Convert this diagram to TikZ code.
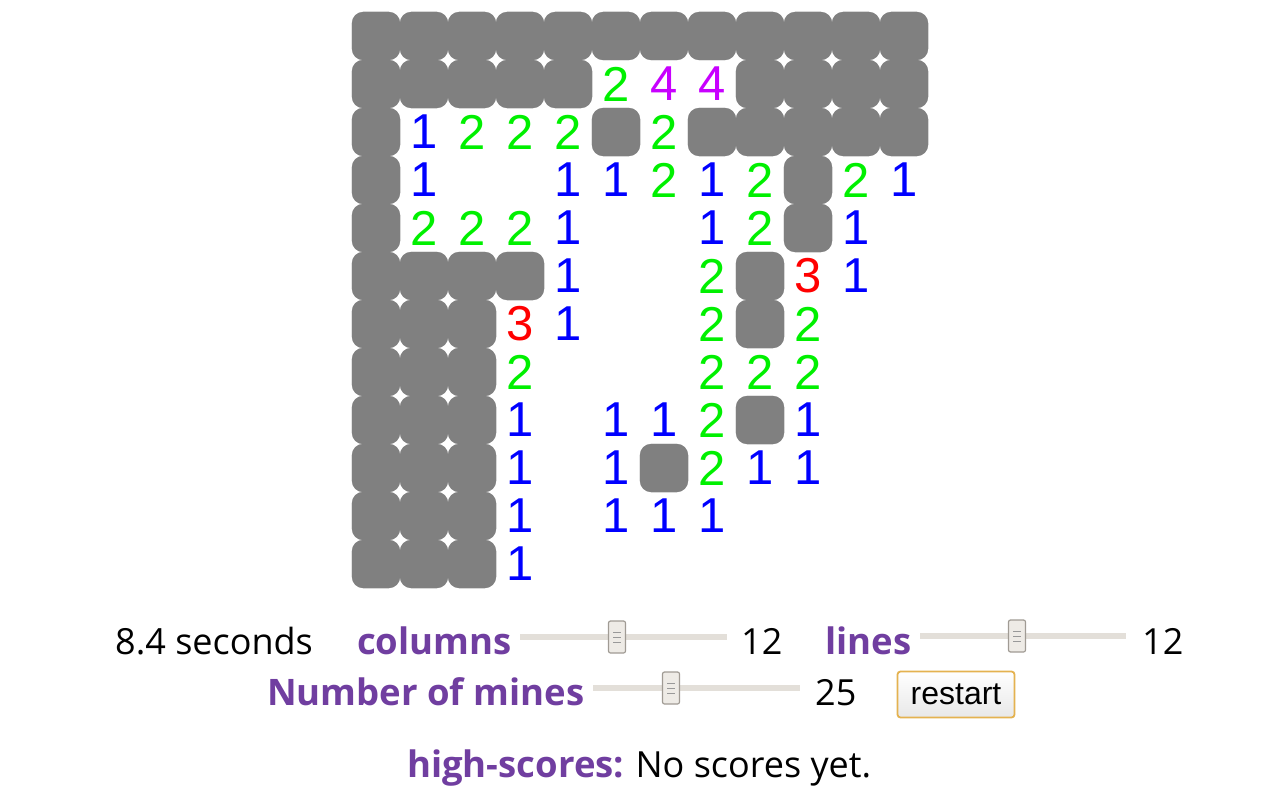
\documentclass[tikz,border=0pt]{standalone}
\usepackage{fontspec}
\setmainfont{Open Sans}
\newfontfamily\digitfont{Liberation Sans}
\usetikzlibrary{positioning}

\definecolor{cellgray}{RGB}{128,128,128}
\definecolor{cellrim}{RGB}{175,175,175}
\definecolor{num1}{RGB}{0,0,255}
\definecolor{num2}{RGB}{0,240,0}
\definecolor{num3}{RGB}{255,0,0}
\definecolor{num4}{RGB}{200,0,255}
\definecolor{labelpurple}{RGB}{112,62,160}
\definecolor{trackgray}{RGB}{227,223,217}
\definecolor{thumbfill}{RGB}{238,235,230}
\definecolor{thumbrim}{RGB}{160,155,148}
\definecolor{buttonrim}{RGB}{228,178,80}

\newcommand{\coveredcells}{0/{0,1,...,11}, 1/{0,1,2,3,4,8,9,10,11}, 2/{0,5,7,8,9,10,11},
  3/{0,9}, 4/{0,9}, 5/{0,1,2,3,8}, 6/{0,1,2,8}, 7/{0,1,2}, 8/{0,1,2,8},
  9/{0,1,2,6}, 10/{0,1,2}, 11/{0,1,2}}

\begin{document}
\begin{tikzpicture}[x=1pt, y=-1pt,
    cellrimbox/.style={draw=cellrim, line width=1.6pt, rounded corners=11pt, minimum size=47pt, inner sep=0pt},
    cellbox/.style={fill=cellgray, rounded corners=11pt, minimum size=48pt, inner sep=0pt},
    digit/.style={font=\digitfont\fontsize{49}{56}\selectfont, inner sep=0pt},
    txt/.style={font=\fontsize{36}{42}\selectfont, inner sep=0pt, anchor=base west},
    bold/.style={txt, font=\fontsize{36.5}{42}\selectfont\bfseries, text=labelpurple},
    track/.style={draw=trackgray, line width=6pt},
    thumb/.style={draw=thumbrim, fill=thumbfill, line width=1.2pt, rounded corners=2pt,
      minimum width=17pt, minimum height=32pt, inner sep=0pt},
    grip/.style={draw=gray!80, line width=1pt},
    button/.style={draw=buttonrim, line width=1.8pt, rounded corners=3pt, top color=white,
      bottom color=gray!18, minimum width=117pt, minimum height=46pt, inner sep=0pt,
      font=\digitfont\fontsize{32}{38}\selectfont}]
    \useasboundingbox (0,0) rectangle (1280,800);
    %
    % covered cells: rim first, fill on top
    \foreach \r/\cs in \coveredcells {
      \foreach \c in \cs
        \node[cellrimbox] at ({376+48*\c},{36+48*\r}) {};
    }
    \foreach \r/\cs in \coveredcells {
      \foreach \c in \cs
        \node[cellbox] (cov-\c-\r) at ({376+48*\c},{36+48*\r}) {};
    }
    %
    % opened cells
    \foreach \c/\r/\v in {5/1/2, 6/1/4, 7/1/4,
        1/2/1, 2/2/2, 3/2/2, 4/2/2, 6/2/2,
        1/3/1, 4/3/1, 5/3/1, 6/3/2, 7/3/1, 8/3/2, 10/3/2, 11/3/1,
        1/4/2, 2/4/2, 3/4/2, 4/4/1, 7/4/1, 8/4/2, 10/4/1,
        4/5/1, 7/5/2, 9/5/3, 10/5/1,
        3/6/3, 4/6/1, 7/6/2, 9/6/2,
        3/7/2, 7/7/2, 8/7/2, 9/7/2,
        3/8/1, 5/8/1, 6/8/1, 7/8/2, 9/8/1,
        3/9/1, 5/9/1, 7/9/2, 8/9/1, 9/9/1,
        3/10/1, 5/10/1, 6/10/1, 7/10/1,
        3/11/1}
      \node[digit, text=num\v] (num-\c-\r) at ({376+48*\c},{36+48*\r}) {\v};
    %
    % controls
    \node[txt] (time) at (115,654) {8.4 seconds};
    \node[bold] (collabel) at (357,654) {columns};
    \coordinate (cols-a) at (520,637);
    \coordinate (cols-b) at (727,637);
    \draw[track] (cols-a) -- (cols-b);
    \node[thumb] (cols-t) at (617,637) {};
    \node[txt] (colval) at (741,654) {12};
    %
    \node[bold] (linelabel) at (825,654) {lines};
    \coordinate (lines-a) at (920,636);
    \coordinate (lines-b) at (1126,636);
    \draw[track] (lines-a) -- (lines-b);
    \node[thumb] (lines-t) at (1017,636) {};
    \node[txt] (lineval) at (1142,654) {12};
    %
    \node[bold] (mineslabel) at (267,705) {Number of mines};
    \coordinate (mines-a) at (593,688);
    \coordinate (mines-b) at (800,688);
    \draw[track] (mines-a) -- (mines-b);
    \node[thumb] (mines-t) at (671,688) {};
    \node[txt] (mineval) at (815,705) {25};
    \node[button] (restart) at (956,694.5) {restart};
    %
    \foreach \t in {cols-t, lines-t, mines-t}
      \foreach \dy in {-5,0,5}
        \draw[grip] ([xshift=-4pt, yshift=\dy pt]\t.center) -- ([xshift=4pt, yshift=\dy pt]\t.center);
    %
    \node[bold] (hslabel) at (407,777) {high-scores:};
    \node[txt, base right=11pt of hslabel] (hsval) {No scores yet.};
\end{tikzpicture}
\end{document}
